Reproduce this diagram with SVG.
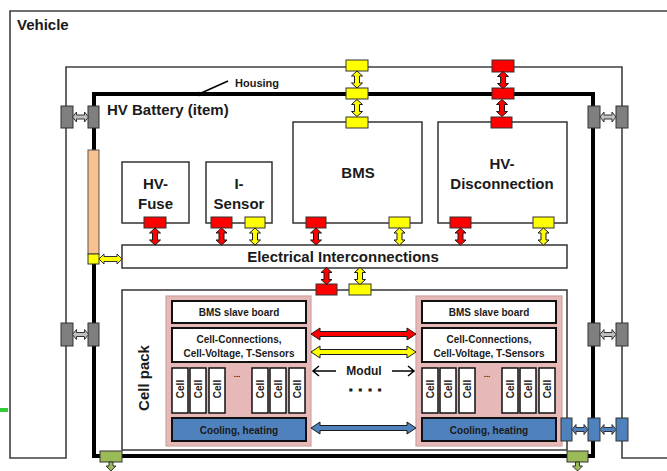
<svg xmlns="http://www.w3.org/2000/svg" xmlns:xlink="http://www.w3.org/1999/xlink" width="667" height="471" viewBox="0 0 667 471">
<style>
text{font-family:"Liberation Sans",Arial,sans-serif;font-weight:bold;fill:#1a1a1a}
.box{fill:#fff;stroke:#333;stroke-width:1.5}
.ibox{fill:#fff;stroke:#111;stroke-width:2}
.cell{fill:#fff;stroke:#111;stroke-width:1.5}
.cool{fill:#4f81bd;stroke:#111;stroke-width:2}
.mod{fill:#e6b9b8;stroke:#cfa3a2;stroke-width:1.2}
.con{stroke:#333;stroke-width:1}
.red{fill:#ff0000}
.yel{fill:#ffff00}
.gry{fill:#7f7f7f}
.blu{fill:#4f81bd}
.grn{fill:#9bbb59}
.c{text-anchor:middle}
</style>
<defs>
<path id="va" d="M0,-8.5 L5.5,-3.5 L2.5,-3.5 L2.5,3.5 L5.5,3.5 L0,8.5 L-5.5,3.5 L-2.5,3.5 L-2.5,-3.5 L-5.5,-3.5 Z" stroke="#1a1a1a" stroke-width="1"/>
<path id="ha" d="M-8,0 L-4,-5 L-4,-2 L4,-2 L4,-5 L8,0 L4,5 L4,2 L-4,2 L-4,5 Z" stroke="#333" stroke-width="1"/>
<path id="long" d="M311,0 L320,-6 L320,-2.5 L407,-2.5 L407,-6 L416,0 L407,6 L407,2.5 L320,2.5 L320,6 Z" stroke="#1a1a1a" stroke-width="1"/>
</defs>

<g id="frame">
<path d="M667,458 L622,458 L622,67 L66,67 L66,458 L10,458 L10,11 L667,11" fill="none" stroke="#404040" stroke-width="1.6"/>
<rect x="94" y="94" width="499" height="362" fill="none" stroke="#000" stroke-width="4"/>
<rect x="0" y="408" width="8" height="4" fill="#33cc33"/>
</g>

<g id="labels">
<text x="17" y="30" font-size="15">Vehicle</text>
<text x="107" y="114.5" font-size="15">HV Battery (item)</text>
<text x="235" y="87" font-size="11">Housing</text>
<line x1="199" y1="94" x2="228" y2="81" stroke="#000" stroke-width="1.5"/>
<circle cx="199" cy="94" r="2.2" fill="#000"/>
</g>

<g id="hv-fuse">
<rect class="box" x="122" y="162" width="67" height="61"/>
<text class="c" x="155.5" y="188.5" font-size="15">HV-</text>
<text class="c" x="155.5" y="208.5" font-size="15">Fuse</text>
<rect class="con red" x="144" y="217" width="22" height="11"/>
</g>

<g id="i-sensor">
<rect class="box" x="206" y="162" width="66" height="61"/>
<text class="c" x="239" y="188.5" font-size="15">I-</text>
<text class="c" x="239" y="208.5" font-size="15">Sensor</text>
<rect class="con red" x="211" y="217" width="21" height="11"/>
<rect class="con yel" x="245" y="217" width="20" height="11"/>
</g>

<g id="bms">
<rect class="box" x="293" y="122" width="129" height="101"/>
<text class="c" x="358" y="178" font-size="15">BMS</text>
<rect class="con red" x="306" y="217" width="20" height="11"/>
<rect class="con yel" x="389" y="217" width="21" height="11"/>
</g>

<g id="hv-disconnection">
<rect class="box" x="438" y="122" width="129" height="101"/>
<text class="c" x="502" y="168.5" font-size="15">HV-</text>
<text class="c" x="502" y="188.5" font-size="15">Disconnection</text>
<rect class="con red" x="450" y="217" width="21" height="11"/>
<rect class="con yel" x="533" y="217" width="21" height="11"/>
</g>

<g id="electrical-interconnections">
<rect class="box" x="122" y="245" width="445" height="23"/>
<text class="c" x="343" y="262" font-size="15">Electrical Interconnections</text>
</g>

<g id="cell-pack">
<rect class="box" x="122" y="290" width="445" height="160"/>
<text class="c" font-size="15" transform="translate(149,378) rotate(-90)">Cell pack</text>
<rect class="con red" x="316" y="284" width="21" height="11"/>
<rect class="con yel" x="349" y="284" width="22" height="11"/>
</g>

<g id="modul-left">
<rect class="mod" x="166" y="296" width="145" height="150"/>
<rect class="ibox" x="172" y="301" width="134" height="22"/>
<text class="c" x="239" y="315.5" font-size="10">BMS slave board</text>
<rect class="ibox" x="172" y="328" width="134" height="34"/>
<text class="c" x="239" y="342.5" font-size="10">Cell-Connections,</text>
<text class="c" x="239" y="356.5" font-size="10">Cell-Voltage, T-Sensors</text>
<rect class="cell" x="172" y="368" width="16" height="45"/>
<rect class="cell" x="190" y="368" width="16" height="45"/>
<rect class="cell" x="209" y="368" width="16" height="45"/>
<rect class="cell" x="252" y="368" width="16" height="45"/>
<rect class="cell" x="270" y="368" width="16" height="45"/>
<rect class="cell" x="289" y="368" width="16" height="45"/>
<text class="c" font-size="10" transform="translate(183.5,389) rotate(-90)">Cell</text>
<text class="c" font-size="10" transform="translate(201.5,389) rotate(-90)">Cell</text>
<text class="c" font-size="10" transform="translate(220.5,389) rotate(-90)">Cell</text>
<text class="c" font-size="10" transform="translate(263.5,389) rotate(-90)">Cell</text>
<text class="c" font-size="10" transform="translate(281.5,389) rotate(-90)">Cell</text>
<text class="c" font-size="10" transform="translate(300.5,389) rotate(-90)">Cell</text>
<text class="c" x="237" y="377" font-size="8">...</text>
<rect class="cool" x="172" y="418" width="134" height="23"/>
<text class="c" x="239" y="433.5" font-size="10">Cooling, heating</text>
</g>

<g id="modul-right">
<rect class="mod" x="416" y="296" width="146" height="150"/>
<rect class="ibox" x="422" y="301" width="134" height="22"/>
<text class="c" x="489" y="315.5" font-size="10">BMS slave board</text>
<rect class="ibox" x="422" y="328" width="134" height="34"/>
<text class="c" x="489" y="342.5" font-size="10">Cell-Connections,</text>
<text class="c" x="489" y="356.5" font-size="10">Cell-Voltage, T-Sensors</text>
<rect class="cell" x="422" y="368" width="16" height="45"/>
<rect class="cell" x="440" y="368" width="16" height="45"/>
<rect class="cell" x="459" y="368" width="16" height="45"/>
<rect class="cell" x="502" y="368" width="16" height="45"/>
<rect class="cell" x="520" y="368" width="16" height="45"/>
<rect class="cell" x="539" y="368" width="16" height="45"/>
<text class="c" font-size="10" transform="translate(433.5,389) rotate(-90)">Cell</text>
<text class="c" font-size="10" transform="translate(451.5,389) rotate(-90)">Cell</text>
<text class="c" font-size="10" transform="translate(470.5,389) rotate(-90)">Cell</text>
<text class="c" font-size="10" transform="translate(513.5,389) rotate(-90)">Cell</text>
<text class="c" font-size="10" transform="translate(531.5,389) rotate(-90)">Cell</text>
<text class="c" font-size="10" transform="translate(550.5,389) rotate(-90)">Cell</text>
<text class="c" x="487" y="377" font-size="8">...</text>
<rect class="cool" x="422" y="418" width="134" height="23"/>
<text class="c" x="489" y="433.5" font-size="10">Cooling, heating</text>
</g>

<g id="interfaces">
<rect class="con yel" x="346" y="60" width="22" height="11"/>
<rect class="con yel" x="346" y="88" width="22" height="11"/>
<rect class="con yel" x="346" y="117" width="22" height="11"/>
<rect class="con red" x="492" y="60" width="22" height="12"/>
<rect class="con red" x="492" y="88" width="22" height="11"/>
<rect class="con red" x="491" y="117" width="21" height="11"/>
<rect class="con gry" x="61" y="106" width="12" height="22"/>
<rect class="con gry" x="88" y="106" width="11" height="22"/>
<rect class="con gry" x="61" y="323" width="12" height="23"/>
<rect class="con gry" x="88" y="323" width="11" height="23"/>
<rect x="88" y="150" width="11" height="104" fill="#fac090" stroke="#555" stroke-width="1"/>
<rect class="con yel" x="88" y="254" width="11" height="10"/>
<rect class="con gry" x="588" y="106" width="12" height="22"/>
<rect class="con gry" x="616" y="106" width="12" height="22"/>
<rect class="con gry" x="588" y="323" width="12" height="23"/>
<rect class="con gry" x="616" y="323" width="12" height="23"/>
<rect class="con blu" x="561" y="418" width="11" height="23"/>
<rect class="con blu" x="588" y="418" width="12" height="23"/>
<rect class="con blu" x="616" y="418" width="12" height="23"/>
<rect class="con grn" x="100" y="451" width="22" height="11"/>
<rect class="con grn" x="567" y="451" width="21" height="11"/>
</g>

<g id="connectors">
<use xlink:href="#va" x="155" y="236.5" fill="#ff0000"/>
<use xlink:href="#va" x="221.5" y="236.5" fill="#ff0000"/>
<use xlink:href="#va" x="255" y="236.5" fill="#ffff00"/>
<use xlink:href="#va" x="316" y="236.5" fill="#ff0000"/>
<use xlink:href="#va" x="399.5" y="236.5" fill="#ffff00"/>
<use xlink:href="#va" x="460.5" y="236.5" fill="#ff0000"/>
<use xlink:href="#va" x="543.5" y="236.5" fill="#ffff00"/>
<use xlink:href="#va" x="326.5" y="276" fill="#ff0000"/>
<use xlink:href="#va" x="360" y="276" fill="#ffff00"/>
<use xlink:href="#va" x="357" y="79.5" fill="#ffff00"/>
<use xlink:href="#va" x="357" y="108" fill="#ffff00"/>
<use xlink:href="#va" x="503" y="80" fill="#ff0000"/>
<use xlink:href="#va" x="502" y="108" fill="#ff0000"/>
<use xlink:href="#ha" x="80.5" y="117" fill="#bfbfbf"/>
<use xlink:href="#ha" x="80.5" y="334.5" fill="#bfbfbf"/>
<use xlink:href="#ha" x="608" y="117" fill="#bfbfbf"/>
<use xlink:href="#ha" x="608" y="334.5" fill="#bfbfbf"/>
<use xlink:href="#ha" x="580" y="429.5" fill="#4f81bd"/>
<use xlink:href="#ha" x="608" y="429.5" fill="#4f81bd"/>
<path d="M99,259 L104,254 L104,256.5 L117,256.5 L117,254 L122,259 L117,264 L117,261.5 L104,261.5 L104,264 Z" fill="#ffff00" stroke="#333" stroke-width="1"/>
<use xlink:href="#long" x="0" y="334" fill="#ff0000"/>
<use xlink:href="#long" x="0" y="352" fill="#ffff00"/>
<use xlink:href="#long" x="0" y="428" fill="#4f81bd"/>
<path d="M336,371 L313,371 M319,366 L313,371 L319,376 M392,371 L414,371 M408,366 L414,371 L408,376" fill="none" stroke="#000" stroke-width="1.5"/>
<text class="c" x="364" y="375" font-size="12">Modul</text>
<text x="349" y="391" font-size="13" letter-spacing="6" stroke="#1a1a1a" stroke-width="1.2">....</text>
<path d="M109,462 L113,462 L113,466 L116,466 L111,471 L106,466 L109,466 Z" fill="#9bbb59" stroke="#333" stroke-width="1"/>
<path d="M575.5,462 L579.5,462 L579.5,466 L582.5,466 L577.5,471 L572.5,466 L575.5,466 Z" fill="#9bbb59" stroke="#333" stroke-width="1"/>
</g>
</svg>
